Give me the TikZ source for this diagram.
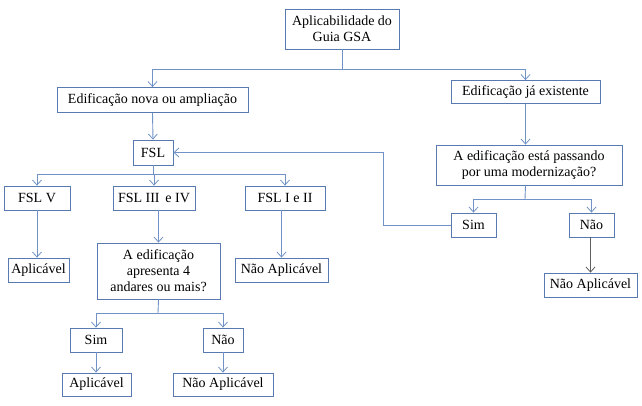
\documentclass[tikz,border=0pt]{standalone}
\usepackage{fontspec}
\setmainfont{Liberation Serif}
\usetikzlibrary{arrows.meta}
\definecolor{boxcol}{RGB}{88,122,176}
\definecolor{linecol}{RGB}{112,146,198}
\definecolor{darkline}{RGB}{95,95,95}
\tikzset{
  fbox/.style={draw=boxcol, line width=0.8pt, fill=white, align=center, inner sep=0pt,
    font=\fontsize{14}{16}\selectfont},
  conn/.style={draw=linecol, line width=0.9pt},
  arr/.style={conn, -{Straight Barb[length=5pt,width=9pt,line width=0.8pt]}},
  darr/.style={arr, draw=darkline},
}
\newcommand{\bx}[6]{\node[fbox, minimum width=#4pt, minimum height=#5pt] (#1) at (#2,#3) {#6};}
\begin{document}
\begin{tikzpicture}[x=1pt,y=-1pt]
\useasboundingbox (0,0) rectangle (642,406);
% nodes
\bx{top}{342}{29}{114}{40}{Aplicabilidade do\\Guia GSA}
\bx{nova}{152.5}{100}{191}{25}{Edificação nova ou ampliação}
\bx{existe}{525.5}{92}{149}{23}{Edificação já existente}
\bx{fsl}{153}{152.5}{40}{25}{FSL}
\bx{fslv}{37}{198}{66}{24}{FSL V}
\bx{fsl34}{154}{198}{82}{24}{FSL III\, e IV}
\bx{fsl12}{285}{198}{80}{24}{FSL I e II}
\bx{aplic1}{38.5}{270}{61}{24}{Aplicável}
\bx{perg}{158.5}{271}{123}{56}{A edificação\\apresenta 4\\andares ou mais?}
\bx{naoapl1}{281.5}{270}{93}{24}{Não Aplicável}
\bx{modern}{529}{165}{186}{40}{A edificação está passando\\por uma modernização?}
\bx{sim1}{473.5}{225}{45}{24}{Sim}
\bx{nao1}{591.5}{225}{45}{24}{Não}
\bx{naoapl2}{590.5}{285}{93}{24}{Não Aplicável}
\bx{sim2}{96}{340}{52}{24}{Sim}
\bx{nao2}{223}{340}{40}{24}{Não}
\bx{aplic2}{96.5}{384.5}{69}{23}{Aplicável}
\bx{naoapl3}{223}{384.5}{100}{23}{Não Aplicável}
% branch points
\coordinate (b1) at (342,69);
\coordinate (b2) at (153,174);
\coordinate (b3) at (525,199);
\coordinate (b4) at (158,313);
\coordinate (loop) at (383,225);
% connectors
\draw[conn] (top.south) -- (b1);
\draw[arr] (b1) -| (nova.north);
\draw[arr] (b1) -| (existe.north);
\draw[arr] (nova.south) -- (fsl.north);
\draw[conn] (fsl.south) -- (b2);
\draw[arr] (b2) -| (fslv.north);
\draw[arr] (b2) -| (fsl34.north);
\draw[arr] (b2) -| (fsl12.north);
\draw[arr] (fslv.south) -- (fslv.south |- aplic1.north);
\draw[arr] (perg.north |- fsl34.south) -- (perg.north);
\draw[arr] (fsl12.south -| naoapl1.north) -- (naoapl1.north);
\draw[arr] (existe.south) -- (existe.south |- modern.north);
\draw[conn] (existe.south |- modern.south) -- (b3);
\draw[arr] (b3) -| (sim1.north);
\draw[arr] (b3) -| (nao1.north);
\draw[arr] (sim1.west) -- (loop) |- (fsl.east);
\draw[darr] (nao1.south -| naoapl2.north) -- (naoapl2.north);
\draw[conn] (perg.south) -- (b4);
\draw[arr] (b4) -| (sim2.north);
\draw[arr] (b4) -| (nao2.north);
\draw[arr] (sim2.south) -- (sim2.south |- aplic2.north);
\draw[arr] (nao2.south) -- (nao2.south |- naoapl3.north);
\end{tikzpicture}
\end{document}
